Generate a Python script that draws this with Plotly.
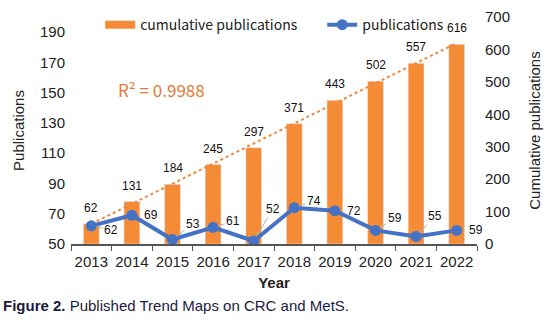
import numpy as np
import plotly.graph_objects as go

years = ["2013", "2014", "2015", "2016", "2017", "2018", "2019", "2020", "2021", "2022"]
publications = [62, 69, 53, 61, 52, 74, 72, 59, 55, 59]
cumulative = [62, 131, 184, 245, 297, 371, 443, 502, 557, 616]
left_ticks = [50, 70, 90, 110, 130, 150, 170, 190]
right_ticks = [0, 100, 200, 300, 400, 500, 600, 700]
r2_text = "R² = 0.9988"

# label offsets for the publications labels (pixels: dx, dy) and leader flags
pub_label_offsets = [(20, 4), (19, 0), (20, -15), (20, -6), (19, -32),
                     (20, -7), (19, 0), (19, -12), (19, -20), (19, 0)]
leader = [True, False, True, True, True, True, False, True, True, False]

ORANGE = "#F68B36"
BLUE = "#4472C4"
FONT = "Liberation Sans, Arial, sans-serif"
CJK = "Noto Sans CJK SC, Noto Sans, sans-serif"

# linear trendline of cumulative publications
idx = np.arange(1, len(cumulative) + 1)
slope, intercept = np.polyfit(idx, cumulative, 1)
trend = [float(slope * i + intercept) for i in idx]

fig = go.Figure()

fig.add_trace(go.Bar(
    x=years, y=cumulative, marker_color=ORANGE, width=0.39,
    yaxis="y", showlegend=False,
))
fig.add_trace(go.Scatter(
    x=years, y=trend, mode="lines", yaxis="y",
    line=dict(color="#F0883E", width=2, dash="dot"), showlegend=False,
))
# legend proxy for the bars
fig.add_trace(go.Scatter(
    x=years, y=[None] * len(years), mode="lines", name="cumulative publications",
    line=dict(color=ORANGE, width=8), yaxis="y", legendwidth=177,
))
fig.add_trace(go.Scatter(
    x=years, y=publications, mode="lines+markers", name="publications",
    line=dict(color=BLUE, width=4), marker=dict(size=11, color=BLUE),
    yaxis="y2",
))

annotations = []
for i, v in enumerate(cumulative):
    annotations.append(dict(
        x=i, y=v, xref="x", yref="y", text=str(v), showarrow=False,
        yanchor="bottom", yshift=7, font=dict(size=12, color="#111", family=FONT),
    ))
for i, (v, (dx, dy), ld) in enumerate(zip(publications, pub_label_offsets, leader)):
    if ld:
        annotations.append(dict(
            x=i, y=v, xref="x", yref="y2", text=str(v), showarrow=True,
            ax=dx, ay=dy, arrowhead=0, arrowwidth=1, arrowcolor="#b0b0b0",
            standoff=5, font=dict(size=12, color="#111", family=FONT),
        ))
    else:
        annotations.append(dict(
            x=i, y=v, xref="x", yref="y2", text=str(v), showarrow=False,
            xshift=dx, yshift=-dy, font=dict(size=12, color="#111", family=FONT),
        ))

annotations.append(dict(
    x=0.112, y=0.68, xref="paper", yref="paper", text=r2_text, showarrow=False,
    xanchor="left", yanchor="middle",
    font=dict(size=17, color="#E07B39", family=CJK),
))
annotations.append(dict(
    x=-0.173, y=-0.27, xref="paper", yref="paper", xanchor="left", yanchor="middle",
    text="<b>Figure 2.</b> Published Trend Maps on CRC and MetS.", showarrow=False,
    font=dict(size=15, color="#1c1a40", family=FONT),
))

fig.update_layout(
    width=558, height=321,
    margin=dict(l=70.5, r=81, t=17, b=77, autoexpand=False),
    paper_bgcolor="white", plot_bgcolor="white",
    font=dict(family=FONT, color="#222"),
    xaxis=dict(
        type="category", categoryorder="array", categoryarray=years,
        range=[-0.5, 9.5],
        showline=True, linecolor="#555", linewidth=1.5,
        ticks="outside", tickson="boundaries", ticklen=5, tickcolor="#555",
        tickfont=dict(size=15, color="#222"), tickangle=0, ticklabelstandoff=3,
        title=dict(text="<b>Year</b>", font=dict(size=15, color="#222"), standoff=9),
        showgrid=False,
    ),
    yaxis=dict(
        side="right", range=[0, 700], tickvals=right_ticks,
        tickfont=dict(size=15, color="#222"), showgrid=False, zeroline=False,
        ticklabelstandoff=7,
        title=dict(text="Cumulative publications", font=dict(size=15, color="#222"), standoff=20),
    ),
    yaxis2=dict(
        side="left", overlaying="y", range=[50, 200], tickvals=left_ticks,
        tickfont=dict(size=15, color="#222"), showgrid=False, zeroline=False,
        ticklabelstandoff=5,
        title=dict(text="Publications", font=dict(size=15, color="#222"), standoff=11),
    ),
    legend=dict(
        orientation="h", x=0.072, y=1.035, xanchor="left", yanchor="top",
        font=dict(size=14, color="#222", family=CJK), bgcolor="rgba(0,0,0,0)",
        itemwidth=30,
    ),
    annotations=annotations,
)

fig.write_html("out.html")
